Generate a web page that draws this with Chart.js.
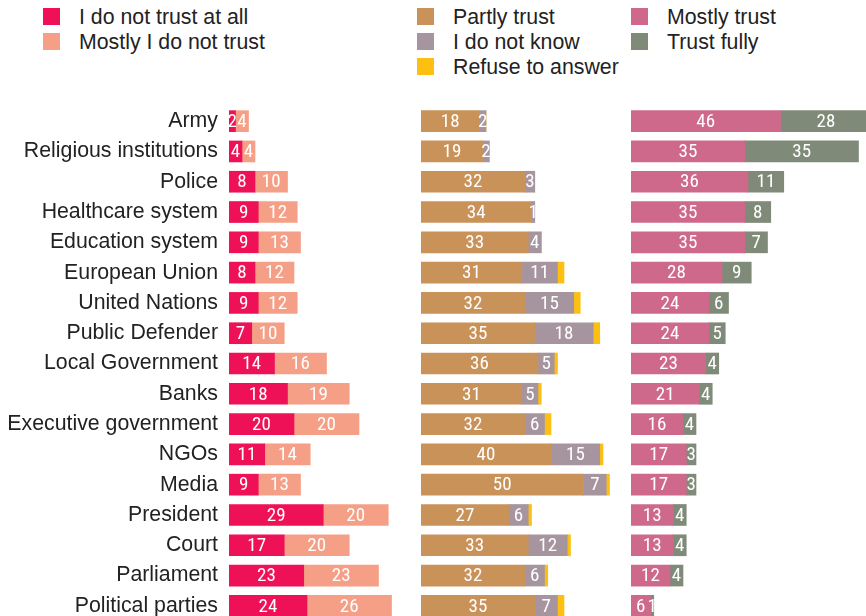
<!DOCTYPE html>
<html>
<head>
<meta charset="utf-8">
<script src="https://cdn.jsdelivr.net/npm/chart.js@4/dist/chart.umd.min.js"></script>
<style>
  html, body { margin: 0; padding: 0; width: 866px; height: 616px; overflow: hidden; background: #fff; }
  .box { position: absolute; }
  .legend { position: absolute; font: 21.3px "Liberation Sans", Arial, sans-serif; color: #222; }
  .legend .item { position: absolute; left: 0; height: 17px; white-space: nowrap; }
  .legend .sw { position: absolute; left: 0; top: 0; width: 17px; height: 17px; }
  .legend .tx { position: absolute; left: 36px; top: 1px; line-height: 17px; }
</style>
</head>
<body>
<div class="box" style="left:0;top:106px;width:398px;height:515px"><canvas id="cLeft"></canvas></div>
<div class="box" style="left:421px;top:106px;width:195px;height:515px"><canvas id="cMid"></canvas></div>
<div class="box" style="left:631px;top:106px;width:235px;height:515px"><canvas id="cRight"></canvas></div>

<script>
const categories = ["Army", "Religious institutions", "Police", "Healthcare system", "Education system",
  "European Union", "United Nations", "Public Defender", "Local Government", "Banks",
  "Executive government", "NGOs", "Media", "President", "Court", "Parliament", "Political parties"];

const notAtAll   = [2, 4, 8, 9, 9, 8, 9, 7, 14, 18, 20, 11, 9, 29, 17, 23, 24];
const mostlyNot  = [4, 4, 10, 12, 13, 12, 12, 10, 16, 19, 20, 14, 13, 20, 20, 23, 26];
const partly     = [18, 19, 32, 34, 33, 31, 32, 35, 36, 31, 32, 40, 50, 27, 33, 32, 35];
const dontKnow   = [2, 2, 3, 1, 4, 11, 15, 18, 5, 5, 6, 15, 7, 6, 12, 6, 7];
const refuse     = [0, 0, 0, 0, 0, 2, 2, 2, 1, 1, 2, 1, 1, 1, 1, 1, 2];
const mostly     = [46, 35, 36, 35, 35, 28, 24, 24, 23, 21, 16, 17, 17, 13, 13, 12, 6];
const fully      = [28, 35, 11, 8, 7, 9, 6, 5, 4, 4, 4, 3, 3, 4, 4, 4, 1];

const PX_PER_UNIT = 3.25;
const numFont = "19px 'Liberation Sans Narrow', 'Roboto Condensed', Roboto, sans-serif";

// white numbers in the middle of each segment
const segmentValues = {
  id: 'segmentValues',
  afterDatasetsDraw(chart) {
    const ctx = chart.ctx;
    ctx.save();
    ctx.font = numFont;
    ctx.fillStyle = '#fff';
    ctx.textAlign = 'center';
    ctx.textBaseline = 'middle';
    chart.data.datasets.forEach((ds, i) => {
      if (ds.noValues) return;
      chart.getDatasetMeta(i).data.forEach((el, j) => {
        const v = ds.data[j];
        if (!v) return;
        const p = el.getProps(['x', 'y', 'base'], true);
        ctx.fillText(String(v), (p.x + p.base) / 2, p.y + 1);
      });
    });
    ctx.restore();
  }
};

function makeChart(id, datasets, xMax, showLabels) {
  return new Chart(document.getElementById(id), {
    type: 'bar',
    data: {
      labels: categories,
      datasets: datasets.map(d => Object.assign({
        barThickness: 21,
        borderWidth: 0
      }, d))
    },
    options: {
      indexAxis: 'y',
      responsive: true,
      maintainAspectRatio: false,
      animation: false,
      layout: { padding: 0 },
      plugins: { legend: { display: false }, tooltip: { enabled: false } },
      scales: {
        x: { stacked: true, min: 0, max: xMax, display: false },
        y: {
          stacked: true,
          display: showLabels,
          grid: { display: false, drawTicks: false },
          border: { display: false },
          ticks: {
            autoSkip: false,
            padding: 11,
            color: '#222',
            font: { family: "'Liberation Sans', Arial, sans-serif", size: 21.3 }
          },
          afterFit(scale) {
            if (!showLabels) return;
            scale.width = 229;
            scale.paddingTop = 0;
            scale.paddingBottom = 0;
          }
        }
      }
    },
    plugins: [segmentValues]
  });
}

const leftSets = [
  { label: 'I do not trust at all', data: notAtAll, backgroundColor: '#ee1158' },
  { label: 'Mostly I do not trust', data: mostlyNot, backgroundColor: '#f5a086' }
];
const midSets = [
  { label: 'Partly trust', data: partly, backgroundColor: '#c99259' },
  { label: 'I do not know', data: dontKnow, backgroundColor: '#a6959f' },
  { label: 'Refuse to answer', data: refuse, backgroundColor: '#fdbf12', noValues: true }
];
const rightSets = [
  { label: 'Mostly trust', data: mostly, backgroundColor: '#cf698c' },
  { label: 'Trust fully', data: fully, backgroundColor: '#7f8b78' }
];

makeChart('cLeft', leftSets, (398 - 229) / PX_PER_UNIT, true);
makeChart('cMid', midSets, 195 / PX_PER_UNIT, false);
makeChart('cRight', rightSets, 235 / PX_PER_UNIT, false);

// legend columns above each panel
function legendColumn(sets, left) {
  const col = document.createElement('div');
  col.className = 'legend';
  col.style.left = left + 'px';
  col.style.top = '8px';
  sets.forEach((s, i) => {
    const it = document.createElement('div');
    it.className = 'item';
    it.style.top = (i * 25) + 'px';
    const sw = document.createElement('span');
    sw.className = 'sw';
    sw.style.background = s.backgroundColor;
    const tx = document.createElement('span');
    tx.className = 'tx';
    tx.textContent = s.label;
    it.appendChild(sw);
    it.appendChild(tx);
    col.appendChild(it);
  });
  document.body.appendChild(col);
}
legendColumn(leftSets, 43);
legendColumn(midSets, 417);
legendColumn(rightSets, 631);
</script>
</body>
</html>
